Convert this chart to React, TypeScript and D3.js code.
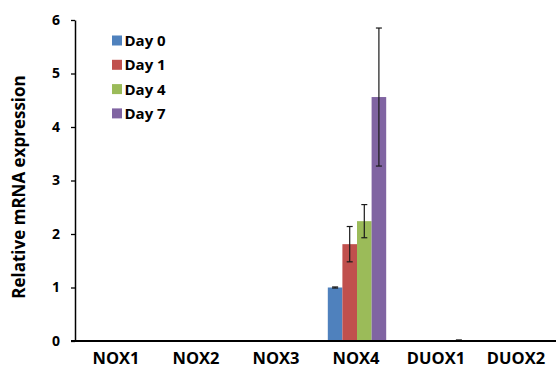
import React, { useEffect, useRef } from 'react';
import * as d3 from 'd3';

const categories = ['NOX1', 'NOX2', 'NOX3', 'NOX4', 'DUOX1', 'DUOX2'];
const seriesNames = ['Day 0', 'Day 1', 'Day 4', 'Day 7'];
const day0 = [0, 0, 0, 1.0, 0, 0];
const day1 = [0, 0, 0, 1.81, 0, 0];
const day4 = [0, 0, 0, 2.24, 0, 0];
const day7 = [0, 0, 0, 4.56, 0.01, 0];
const err0 = [0, 0, 0, 0.01, 0, 0];
const err1 = [0, 0, 0, 0.33, 0, 0];
const err4 = [0, 0, 0, 0.31, 0, 0];
const err7 = [0, 0, 0, 1.29, 0.01, 0];
const yTicks = [0, 1, 2, 3, 4, 5, 6];
const colors = ['#4F81BD', '#C0504D', '#9BBB59', '#8064A2'];

const FONT = "'Open Sans', sans-serif";

function App() {
  const ref = useRef<SVGSVGElement>(null);

  useEffect(() => {
    const width = 556;
    const height = 375;
    const left = 75;
    const top = 20;
    const bottom = 341;

    const values = [day0, day1, day4, day7];
    const errors = [err0, err1, err4, err7];

    const svg = d3.select(ref.current);
    svg.selectAll('*').remove();
    svg.attr('width', width).attr('height', height);

    const y = d3.scaleLinear().domain([0, 6]).range([bottom, top]);
    const x0 = d3.scaleBand<string>()
      .domain(categories)
      .range([77, 557])
      .paddingInner(0.27)
      .paddingOuter(0.135);
    const x1 = d3.scaleBand<string>()
      .domain(seriesNames)
      .range([0, x0.bandwidth()]);

    // one row per bar
    const rows = categories.map((c, ci) => seriesNames.map((s, si) => ({
      cat: c, series: s, si, value: values[si][ci], err: errors[si][ci]
    }))).flat();

    svg.append('g')
      .selectAll('rect')
      .data(rows.filter(d => d.value > 0))
      .enter()
      .append('rect')
        .attr('x', d => x0(d.cat)! + x1(d.series)!)
        .attr('y', d => y(d.value))
        .attr('width', x1.bandwidth())
        .attr('height', d => y(0) - y(d.value))
        .attr('fill', d => colors[d.si]);

    // error bars
    const eb = svg.append('g')
      .attr('stroke', '#1a1a1a')
      .attr('stroke-width', 1.2)
      .selectAll('g')
      .data(rows.filter(d => d.err > 0))
      .enter()
      .append('g');
    const cx = (d: any) => x0(d.cat)! + x1(d.series)! + x1.bandwidth() / 2;
    eb.append('line')
      .attr('x1', cx).attr('x2', cx)
      .attr('y1', d => y(d.value + d.err))
      .attr('y2', d => y(d.value - d.err));
    eb.append('line')
      .attr('x1', d => cx(d) - 3).attr('x2', d => cx(d) + 3)
      .attr('y1', d => y(d.value + d.err))
      .attr('y2', d => y(d.value + d.err));
    eb.append('line')
      .attr('x1', d => cx(d) - 3).attr('x2', d => cx(d) + 3)
      .attr('y1', d => y(d.value - d.err))
      .attr('y2', d => y(d.value - d.err));

    // y axis
    const yAxis = svg.append('g')
      .attr('transform', `translate(${left},0)`)
      .call(d3.axisLeft(y).tickValues(yTicks).tickFormat(d3.format('d')).tickSize(4).tickSizeOuter(0).tickPadding(11));
    yAxis.select('.domain').attr('stroke', '#000').attr('stroke-width', 1.5);
    yAxis.selectAll('.tick line').attr('stroke', '#000').attr('stroke-width', 1.3);
    yAxis.selectAll('text')
      .attr('fill', '#000')
      .style('font-family', FONT)
      .style('font-weight', 'bold')
      .style('font-size', '14px');

    // x axis line
    svg.append('line')
      .attr('x1', left - 4).attr('x2', width)
      .attr('y1', y(0)).attr('y2', y(0))
      .attr('stroke', '#000')
      .attr('stroke-width', 2);

    // category labels
    svg.append('g')
      .selectAll('text')
      .data(categories)
      .enter()
      .append('text')
        .attr('x', d => x0(d)! + x0.bandwidth() / 2 - 1)
        .attr('y', 364)
        .attr('text-anchor', 'middle')
        .style('font-family', FONT)
        .style('font-weight', 'bold')
        .style('font-size', '16.5px')
        .text(d => d);

    // y title
    svg.append('text')
      .attr('transform', 'translate(25,187) rotate(-90)')
      .attr('text-anchor', 'middle')
      .style('font-family', FONT)
      .style('font-weight', 'bold')
      .style('font-size', '17px')
      .text('Relative mRNA expression');

    // legend
    const lg = svg.append('g')
      .selectAll('g')
      .data(seriesNames)
      .enter()
      .append('g')
        .attr('transform', (d, i) => `translate(112,${40.5 + i * 24.3})`);
    lg.append('rect')
      .attr('x', 0).attr('y', -5)
      .attr('width', 10).attr('height', 10)
      .attr('fill', (d, i) => colors[i]);
    lg.append('text')
      .attr('x', 12.5)
      .attr('y', 5.5)
      .style('font-family', FONT)
      .style('font-weight', 'bold')
      .style('font-size', '15px')
      .text(d => d);
  }, []);

  return (
    <svg ref={ref} style={{ position: 'absolute', left: 0, top: 0, background: '#fff' }}></svg>
  );
}

export default App;
